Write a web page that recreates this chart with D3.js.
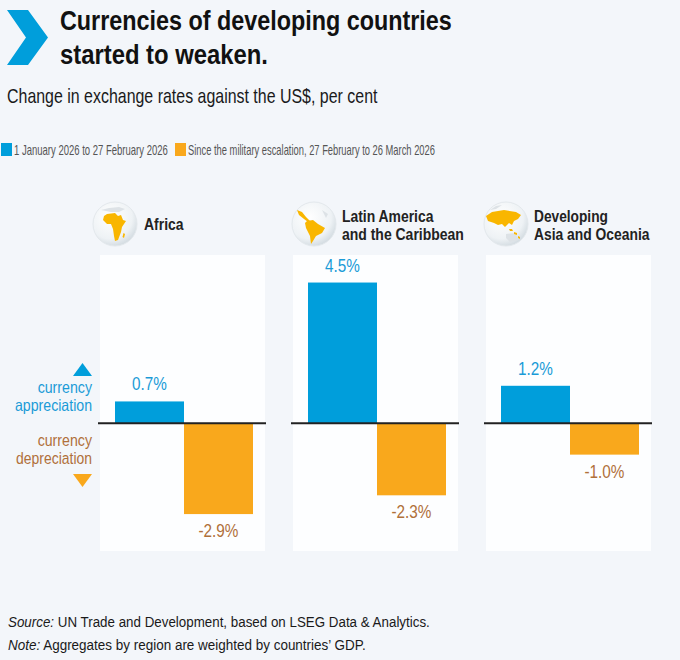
<!DOCTYPE html>
<html>
<head>
<meta charset="utf-8">
<script src="https://cdn.jsdelivr.net/npm/d3@7/dist/d3.min.js"></script>
<style>
  html, body { margin: 0; padding: 0; background: #f3f6fa; }
  svg { display: block; }
  text { font-family: "Liberation Sans", Arial, sans-serif; }
</style>
</head>
<body>
<svg id="chart" width="680" height="660"></svg>
<script>
"use strict";
// data
var regions = ["Africa", "Latin America and the Caribbean", "Developing Asia and Oceania"];
var regionLines = [["Africa"], ["Latin America", "and the Caribbean"], ["Developing", "Asia and Oceania"]];
var seriesNames = ["1 January 2026 to 27 February 2026", "Since the military escalation, 27 February to 26 March 2026"];
var beforeEscalation = [0.7, 4.5, 1.2];
var sinceEscalation = [-2.9, -2.3, -1.0];

var blue = "#009edb", orange = "#f9a81c", blueText = "#1a9bd7", brownText = "#b0703a";

var svg = d3.select("#chart");

// the original uses a condensed face; squeeze the text horizontally around its anchor point
function squeeze(t, k) {
	var x = +t.attr("x") || 0, yy = +t.attr("y") || 0;
	t.attr("transform", "translate(" + x + "," + yy + ") scale(" + k + ",1) translate(" + (-x) + "," + (-yy) + ")");
	return t;
}
function fitWidth(t, w) {
	return squeeze(t, w / t.node().getBBox().width);
}

// header
svg.append("path")
	.attr("d", "M7,10 L28,10 L48,37.5 L28,65 L7,65 L26,37.5 Z")
	.attr("fill", blue);
fitWidth(svg.append("text").attr("x", 60).attr("y", 30)
	.attr("font-size", 27.5).attr("font-weight", "bold").attr("fill", "#111")
	.text("Currencies of developing countries"), 392);
fitWidth(svg.append("text").attr("x", 60).attr("y", 64)
	.attr("font-size", 27.5).attr("font-weight", "bold").attr("fill", "#111")
	.text("started to weaken."), 208);

fitWidth(svg.append("text").attr("x", 7).attr("y", 103)
	.attr("font-size", 20).attr("fill", "#1a1a1a")
	.text("Change in exchange rates against the US$, per cent"), 371);

// legend
var legendX = [1, 175];
var legendW = [154, 247];
seriesNames.forEach(function (name, i) {
	svg.append("rect").attr("x", legendX[i]).attr("y", 143)
		.attr("width", 11).attr("height", 13).attr("fill", i === 0 ? blue : orange);
	fitWidth(svg.append("text").attr("x", legendX[i] + 13).attr("y", 155)
		.attr("font-size", 15).attr("fill", "#555").text(name), legendW[i]);
});

// panels
var panelX = [100, 293, 486];
var panelW = 165;
var y = d3.scaleLinear().domain([-4.08, 5.38]).range([551, 255]);

var defs = svg.append("defs");
var grad = defs.append("radialGradient").attr("id", "globe").attr("cx", "40%").attr("cy", "35%").attr("r", "70%");
grad.append("stop").attr("offset", "0%").attr("stop-color", "#ffffff");
grad.append("stop").attr("offset", "70%").attr("stop-color", "#eef2f5");
grad.append("stop").attr("offset", "100%").attr("stop-color", "#cfd8de");

// rough continent outlines for the globe icons (centre-relative, radius 22)
var continents = [
	["M-8,-10 L0,-11 L3,-8 L6,-9 L8,-4 L11,-3 L7,3 L6,8 L3,16 L0,17 L-1,12 L-2,5 L-4,0 L-8,0 L-12,-4 L-11,-8 Z",
	 "M8.5,9 L10,10 L9,14 L7.5,13 Z"],
	["M-17,-14 L-12,-12 L-8,-7 L-4,-3 L-6,-2 L-10,-5 L-15,-9 Z",
	 "M-7,-3 L-1,-4 L4,0 L11,4 L8,9 L2,12 L-1,17 L-3,20 L-4,12 L-8,4 L-9,-1 Z"],
	["M-20,-8 L-14,-12 L-2,-14 L10,-12 L15,-9 L12,-5 L8,-3 L6,1 L3,-1 L-1,3 L-4,0 L-8,1 L-12,-1 L-18,-3 Z",
	 "M3,5 L6,5 L7,7 L4,7 Z M8,8 L11,9 L11,11 L8,10 Z M12,12 L14,13 L14,15 L12,14 Z"]
];
var greyLand = [
	"M-14,-14 L-6,-16 L4,-17 L10,-15 L4,-12 L-4,-12 Z",
	"M8,-14 L14,-10 L12,-6 Z",
	"M-16,-14 L-10,-18 L-4,-19 L-10,-15 Z M0,10 L10,9 L12,16 L4,18 L0,14 Z"
];
var globeX = [115, 314, 506];
var labelX = [144, 342, 534];
var labelW = [[40], [92, 122], [74, 116]];

regions.forEach(function (region, i) {
	var x0 = panelX[i];
	var g = svg.append("g").attr("class", "panel");

	var globe = g.append("g").attr("transform", "translate(" + globeX[i] + ",224)");
	globe.append("circle").attr("r", 22).attr("fill", "url(#globe)")
		.attr("stroke", "#e3e8ec").attr("stroke-width", 1);
	globe.append("path").attr("d", greyLand[i]).attr("fill", "#dde2e6");
	continents[i].forEach(function (d) {
		globe.append("path").attr("d", d).attr("fill", "#f9b600");
	});

	var lines = regionLines[i];
	lines.forEach(function (line, j) {
		fitWidth(g.append("text").attr("x", labelX[i])
			.attr("y", (lines.length === 1 ? 230 : 222) + j * 18)
			.attr("font-size", 17).attr("font-weight", "bold").attr("fill", "#222")
			.text(line), labelW[i][j]);
	});

	g.append("rect").attr("x", x0).attr("y", y.range()[1])
		.attr("width", panelW).attr("height", y.range()[0] - y.range()[1])
		.attr("fill", "#fdfeff");

	var x = d3.scaleBand().domain([0, 1]).range([x0 + 15, x0 + 153]);
	var vals = [beforeEscalation[i], sinceEscalation[i]];

	g.selectAll("rect.bar").data(vals).enter().append("rect")
		.attr("class", "bar")
		.attr("x", function (d, k) { return x(k); })
		.attr("width", x.bandwidth())
		.attr("y", function (d) { return y(Math.max(0, d)); })
		.attr("height", function (d) { return Math.abs(y(d) - y(0)); })
		.attr("fill", function (d, k) { return k === 0 ? blue : orange; });

	g.selectAll("text.val").data(vals).enter().append("text")
		.attr("class", "val")
		.attr("x", function (d, k) { return x(k) + x.bandwidth() / 2; })
		.attr("y", function (d) { return d >= 0 ? y(d) - 11 : y(d) + 23; })
		.attr("text-anchor", "middle").attr("font-size", 18)
		.attr("fill", function (d, k) { return k === 0 ? blueText : brownText; })
		.text(function (d) { return d.toFixed(1) + "%"; })
		.each(function () { squeeze(d3.select(this), 0.85); });

	g.append("line").attr("x1", x0 - 2).attr("x2", x0 + panelW + 1)
		.attr("y1", y(0)).attr("y2", y(0))
		.attr("stroke", "#222").attr("stroke-width", 2);
});

// appreciation / depreciation note
var noteLines = [
	{ text: "currency", y: 393, w: 55, fill: blueText },
	{ text: "appreciation", y: 411, w: 77, fill: blueText },
	{ text: "currency", y: 446, w: 55, fill: brownText },
	{ text: "depreciation", y: 464, w: 76, fill: brownText }
];
svg.append("path").attr("d", "M73,376 L82.5,363 L92,376 Z").attr("fill", blue);
svg.append("path").attr("d", "M73,474 L92,474 L82.5,487 Z").attr("fill", orange);
noteLines.forEach(function (n) {
	fitWidth(svg.append("text").attr("x", 92).attr("y", n.y).attr("text-anchor", "end")
		.attr("font-size", 16.5).attr("fill", n.fill).text(n.text), n.w);
});

// footnotes
var src = svg.append("text").attr("x", 8).attr("y", 627).attr("font-size", 14.5).attr("fill", "#1a1a1a");
src.append("tspan").attr("font-style", "italic").text("Source:");
src.append("tspan").text(" UN Trade and Development, based on LSEG Data & Analytics.");
fitWidth(src, 422);
var nt = svg.append("text").attr("x", 8).attr("y", 650).attr("font-size", 14.5).attr("fill", "#1a1a1a");
nt.append("tspan").attr("font-style", "italic").text("Note:");
nt.append("tspan").text(" Aggregates by region are weighted by countries\u2019 GDP.");
fitWidth(nt, 358);
</script>
</body>
</html>
